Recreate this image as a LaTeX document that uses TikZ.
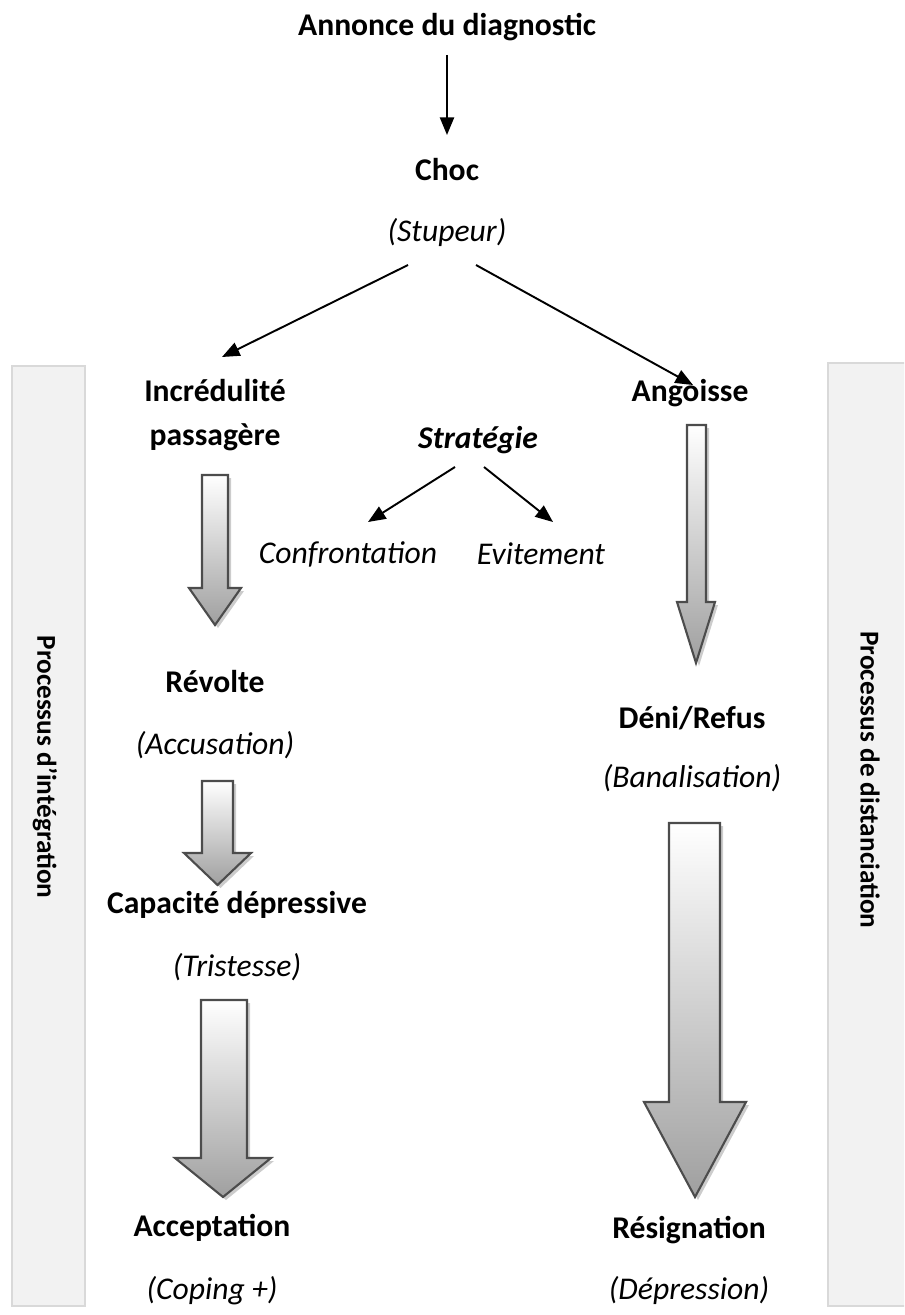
\documentclass[tikz,border=0pt]{standalone}
\usepackage{fontspec}
\setmainfont{Carlito}
\usetikzlibrary{arrows.meta}

% block arrow: shaft left, shaft right, top, head left, head right, head top, tip
\newcommand{\blocarrow}[7]{%
  \fill[gray!40,shift={(3,3)}] (#1,#3) -- (#2,#3) -- (#2,#6) -- (#5,#6) -- ({(#4+#5)/2},#7) -- (#4,#6) -- (#1,#6) -- cycle;
  \shade[top color=white,bottom color=gray!75,draw=gray!60!black,line width=1.2pt,line join=miter]
    (#1,#3) -- (#2,#3) -- (#2,#6) -- (#5,#6) -- ({(#4+#5)/2},#7) -- (#4,#6) -- (#1,#6) -- cycle;
}

\begin{document}
\begin{tikzpicture}[x=0.02cm,y=-0.02cm,
    titre/.style={font=\fontsize{18}{25}\selectfont\bfseries,align=center,inner sep=0pt},
    sous/.style={font=\fontsize{18}{25}\selectfont\itshape,inner sep=0pt},
    strat/.style={font=\fontsize{18}{25}\selectfont\bfseries\itshape,inner sep=0pt},
    cote/.style={font=\fontsize{15.5}{20}\selectfont\bfseries,rotate=-90,inner sep=0pt},
    fleche/.style={line width=1.1pt,-{Triangle[length=10pt,width=8pt]}},
    barre/.style={fill=black!5,draw=black!15,line width=1.2pt}]
  \useasboundingbox (0,0) rectangle (904,1315);
  \clip (0,0) rectangle (904,1315);

  % side bars
  \draw[barre] (12,366) rectangle (85,1306);
  \draw[barre] (828,363) rectangle (912,1306);
  \node[cote] (integr) at (45,767) {Processus d’intégration};
  \node[cote] (distanc) at (870,780) {Processus de distanciation};

  % top
  \node[titre] (annonce) at (447,27) {Annonce du diagnostic};
  \node[titre] (choc) at (447,170) {Choc};
  \node[sous] (stupeur) at (447,232) {(Stupeur)};
  \draw[fleche,shorten <=0.56cm,shorten >=0.7cm] (annonce.center) -- (choc.center);

  \coordinate (s1) at (408,265);
  \coordinate (s2) at (476,265);
  \coordinate (i1) at (222,357);
  \coordinate (g1) at (693,385);
  \draw[fleche] (s1) -- (i1);
  \draw[fleche] (s2) -- (g1);

  % left branch
  \node[titre] (incred) at (215,415) {Incrédulité\\passagère};
  \node[titre] (revolte) at (215,682) {Révolte};
  \node[sous] (accus) at (215,745) {(Accusation)};
  \node[titre] (capac) at (237,905) {Capacité dépressive};
  \node[sous] (trist) at (237,967) {(Tristesse)};
  \node[titre] (accept) at (212,1228) {Acceptation};
  \node[sous] (coping) at (212,1291) {(Coping +)};
  \blocarrow{202}{228}{475}{189}{241}{588}{625}
  \blocarrow{202}{233}{781}{184}{251}{853}{885}
  \blocarrow{201}{247}{1000}{175}{271}{1158}{1197}

  % strategie
  \node[strat] (strat) at (478,440) {Stratégie};
  \node[sous] (confront) at (348,554) {Confrontation};
  \node[sous] (evit) at (541,554) {Evitement};
  \coordinate (t1) at (455,467);
  \coordinate (t2) at (484,467);
  \coordinate (c1) at (368,522);
  \coordinate (e1) at (553,522);
  \draw[fleche] (t1) -- (c1);
  \draw[fleche] (t2) -- (e1);

  % right branch
  \node[titre] (angoisse) at (690,393) {Angoisse};
  \node[titre] (deni) at (692,718) {Déni/Refus};
  \node[sous] (banal) at (692,778) {(Banalisation)};
  \node[titre] (resign) at (689,1230) {Résignation};
  \node[sous] (depress) at (689,1290) {(Dépression)};
  \blocarrow{687}{706}{425}{677}{715}{602}{663}
  \blocarrow{669}{720}{823}{644}{746}{1102}{1197}
\end{tikzpicture}
\end{document}
